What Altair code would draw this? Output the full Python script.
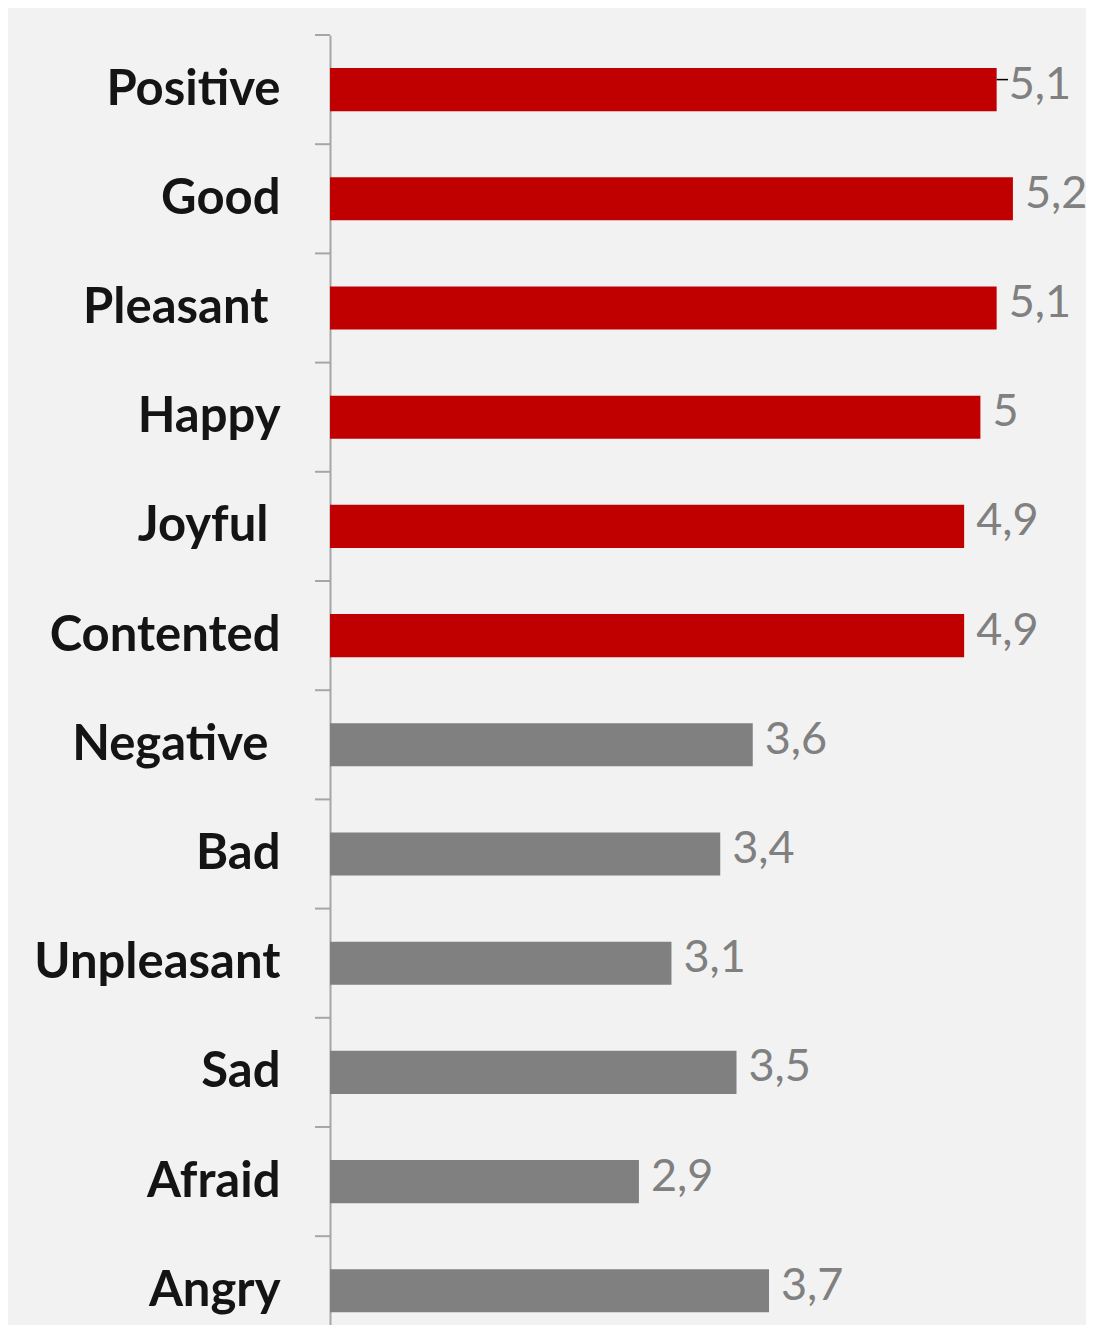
import altair as alt
import pandas as pd

categories = ["Positive", "Good", "Pleasant ", "Happy", "Joyful ", "Contented",
              "Negative ", "Bad", "Unpleasant", "Sad", "Afraid", "Angry"]
values = [5.1, 5.2, 5.1, 5.0, 4.9, 4.9, 3.6, 3.4, 3.1, 3.5, 2.9, 3.7]
value_labels = ["5,1", "5,2", "5,1", "5", "4,9", "4,9", "3,6", "3,4", "3,1", "3,5", "2,9", "3,7"]
groups = ["pos"] * 6 + ["neg"] * 6
leader = [True] + [False] * 11

df = pd.DataFrame({"cat": categories, "value": values, "label": value_labels,
                   "group": groups, "leader": leader})

FONT = "Lato"
STEP = 109.2
N = len(categories)

yscale = alt.Scale(domain=categories, range=[0, STEP * N], paddingInner=0.605, paddingOuter=0.3025)

y = alt.Y("cat:N", sort=categories, title=None, scale=yscale,
          axis=alt.Axis(labelFont=FONT, labelFontWeight="bold", labelFontSize=49,
                        labelColor="#141414",
                        labelPadding={"condition": {"test": "indexof(datum.value, ' ') > 0", "value": 62},
                                      "value": 50},
                        ticks=False, tickSize=0,
                        domainColor="#a6a6a6", domainWidth=2, labelLimit=400))

W = 756
x = alt.X("value:Q", title=None,
          scale=alt.Scale(domain=[1, 1 + W / 162.6], nice=False, zero=False),
          axis=None)

bars = alt.Chart(df).mark_bar().encode(
    y=y, x=x,
    x2=alt.datum(1),
    color=alt.Color("group:N", scale=alt.Scale(domain=["pos", "neg"], range=["#c00000", "#808080"]),
                    legend=None),
)

text = alt.Chart(df).mark_text(align="left", baseline="middle", dx=12, dy=-5,
                               font=FONT, fontSize=45, color="#808080").encode(
    y=alt.Y("cat:N", sort=categories), x="value:Q", text="label:N")

lead = alt.Chart(df).transform_filter("datum.leader").mark_rule(
    color="#000000", strokeWidth=1.5, yOffset=-10).encode(
    y=alt.Y("cat:N", sort=categories), x="value:Q", x2=alt.datum(5.17))

ticks = alt.Chart(df).mark_rule(color="#a6a6a6", strokeWidth=2, yOffset=STEP / 2).encode(
    y=alt.Y("cat:N", sort=categories), x=alt.value(-15), x2=alt.value(0))

top_tick = alt.Chart(df).transform_filter("datum.leader").mark_rule(
    color="#a6a6a6", strokeWidth=2).encode(
    x=alt.value(-15), x2=alt.value(0), y=alt.value(0))

chart = (bars + text + lead + ticks + top_tick).properties(
    width=W, height=1290,
    padding={"left": 322, "top": 27, "right": 0, "bottom": 0},
    autosize=alt.AutoSizeParams(type="none"),
    background="#f2f2f2",
).configure_view(stroke=None)

chart.save("out.html", embed_options={"renderer": "svg", "actions": False})
